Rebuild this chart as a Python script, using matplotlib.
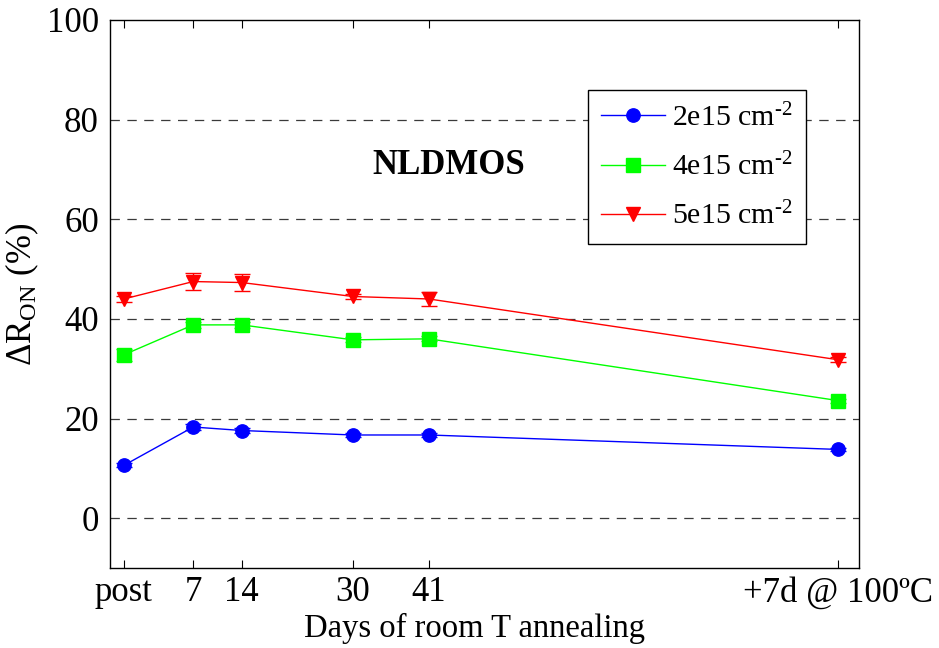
import numpy as np
import matplotlib
matplotlib.use("Agg")
import matplotlib.pyplot as plt
from matplotlib.lines import Line2D

plt.rcParams["font.family"] = ["Liberation Serif", "DejaVu Serif"]
plt.rcParams["mathtext.fontset"] = "custom"
plt.rcParams["mathtext.rm"] = "Liberation Serif"
plt.rcParams["mathtext.it"] = "Liberation Serif:italic"
plt.rcParams["mathtext.bf"] = "Liberation Serif:bold"

# ── Data ───────────────────────────────────────────────────────────────────────

x_pos = [0, 10, 17, 33, 44, 103]
x_labels = ["post", "7", "14", "30", "41", "+7d @ 100ºC"]

# superscript uses a real hyphen (U+2010) instead of the mathtext minus
dose_labels = ["2e15 cm$^{\\mathregular{\u20102}}$",
               "4e15 cm$^{\\mathregular{\u20102}}$",
               "5e15 cm$^{\\mathregular{\u20102}}$"]

dr_2e15 = [10.6, 18.3, 17.6, 16.7, 16.7, 13.8]
dr_4e15 = [32.8, 38.8, 38.8, 35.8, 36.0, 23.6]
dr_5e15 = [44.0, 47.5, 47.3, 44.5, 44.0, 31.8]

err_2e15 = [0.4, 0.6, 0.5, 0.4, 0.4, 0.3]
err_4e15 = [1.2, 0.6, 0.6, 0.5, 0.5, 0.4]
err_5e15 = [0.6, 1.7, 1.7, 0.6, 1.5, 0.5]

# ── Plot ───────────────────────────────────────────────────────────────────────

W, H = 939, 648
fig = plt.figure(figsize=(W / 100, H / 100), dpi=100)
ax = fig.add_axes([110 / W, 1 - 568 / H, (859 - 110) / W, (568 - 20) / H])

series = [
    (dr_2e15, err_2e15, "#0000ff", "o", 9.6),
    (dr_4e15, err_4e15, "#00ff00", "s", 9.4),
    (dr_5e15, err_5e15, "#ff0000", "v", 10.5),
]
handles = []
for (vals, errs, col, mk, ms), lab in zip(series, dose_labels):
    ax.errorbar(x_pos, vals, yerr=errs, color=col, marker=mk, markersize=ms,
                linewidth=1.0, elinewidth=1.0, capsize=5.5, capthick=1.0,
                zorder=3)
    handles.append(Line2D([], [], color=col, marker=mk, markersize=ms,
                          linewidth=1.0, label=lab))

for yv in [0, 20, 40, 60, 80]:
    ax.axhline(yv, color="#3a3a3a", linestyle=(0, (7.5, 6)), linewidth=0.9, zorder=0)

ax.set_xlim(-2, 106)
ax.set_ylim(-10, 100)
ax.set_yticks([0, 20, 40, 60, 80, 100])
ax.set_xticks(x_pos)
ax.set_xticklabels(x_labels)
ax.tick_params(axis="both", direction="in", labelsize=25, length=6,
               top=True, right=True, pad=6)
ax.tick_params(axis="y", length=0, pad=8)

ax.set_xlabel("Days of room T annealing", fontsize=23.5, labelpad=0)
ax.xaxis.set_label_coords((474 - 110) / 749, -0.082, transform=ax.transAxes)
ax.xaxis.label.set_va("top")
ax.set_ylabel(r"$\Delta$R$_{\mathregular{ON}}$ (%)", fontsize=25, labelpad=4)

fig.text(449 / W, 1 - 165 / H, "NLDMOS", fontsize=25, fontweight="bold",
         ha="center", va="center")

leg = ax.legend(handles=handles, loc="upper left",
                bbox_to_anchor=((588 - 110) / 749, 1 - (90 - 20) / 548),
                fontsize=21.5, frameon=True, fancybox=False, edgecolor="black",
                framealpha=1, borderpad=0.45, labelspacing=0.69,
                handlelength=2.14, handletextpad=0.23, borderaxespad=0)
leg.get_frame().set_linewidth(1.0)

for spine in ax.spines.values():
    spine.set_linewidth(1.0)

fig.savefig("out.png", dpi=100)
